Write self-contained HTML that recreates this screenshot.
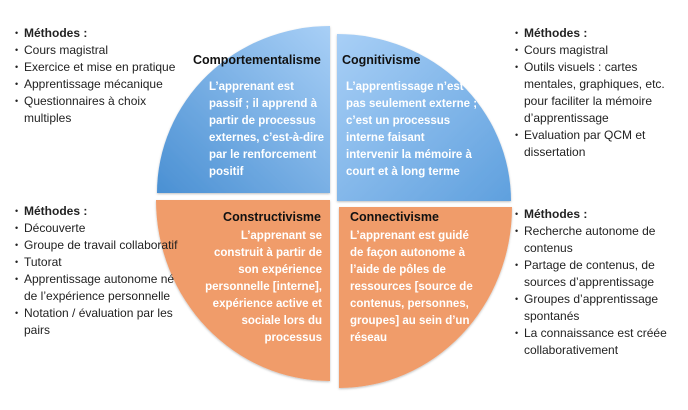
<!DOCTYPE html>
<html><head><meta charset="utf-8"><style>
body{margin:0;width:688px;height:410px;background:#fff;position:relative;overflow:hidden;font-family:"Liberation Sans",sans-serif}
.l{position:absolute;font-size:12px;line-height:17px;color:#222;white-space:nowrap}
.l div{position:relative;padding-left:9px}
.l div.b::before{content:"•";position:absolute;left:0;font-size:9px}
.t{position:absolute;font-size:12.5px;font-weight:bold;color:#111;white-space:nowrap}
.w{position:absolute;font-size:11.5px;font-weight:bold;color:#fff;line-height:17px;white-space:nowrap}
</style></head><body>
<svg width="688" height="410" style="position:absolute;left:0;top:0">
<defs>
<linearGradient id="g1" x1="1" y1="0" x2="0" y2="1"><stop offset="0" stop-color="#a8cff6"/><stop offset="1" stop-color="#4a90d3"/></linearGradient>
<linearGradient id="g2" x1="0" y1="0" x2="1" y2="1"><stop offset="0" stop-color="#a8cff6"/><stop offset="1" stop-color="#5fa0de"/></linearGradient>
<filter id="s"><feDropShadow dx="0" dy="1" stdDeviation="1" flood-opacity="0.25"/></filter>
</defs>
<g filter="url(#s)">
<path d="M330,193 L157,193 A173,167 0 0 1 330,26 Z" fill="url(#g1)"/>
<path d="M337,201 L337,34 A174,167 0 0 1 511,201 Z" fill="url(#g2)"/>
<path d="M330,200 L330,381 A174,181 0 0 1 156,200 Z" fill="#f09c6b"/>
<path d="M339,207 L512,207 A173,181 0 0 1 339,388 Z" fill="#f09c6b"/>
</g>
</svg>
<div class="t" style="left:193px;top:53px">Comportementalisme</div>
<div class="t" style="left:342px;top:53px">Cognitivisme</div>
<div class="t" style="right:367px;top:210px">Constructivisme</div>
<div class="t" style="left:350px;top:210px">Connectivisme</div>
<div class="w" style="left:209px;top:79px">L’apprenant est<br>passif ; il apprend à<br>partir de processus<br>externes, c’est-à-dire<br>par le renforcement<br>positif</div>
<div class="w" style="left:346px;top:79px">L’apprentissage n’est<br>pas seulement externe ;<br>c’est un processus<br>interne faisant<br>intervenir la mémoire à<br>court et à long terme</div>
<div class="w" style="right:366px;top:228px;text-align:right">L’apprenant se<br>construit à partir de<br>son expérience<br>personnelle [interne],<br>expérience active et<br>sociale lors du<br>processus</div>
<div class="w" style="left:350px;top:228px">L’apprenant est guidé<br>de façon autonome à<br>l’aide de pôles de<br>ressources [source de<br>contenus, personnes,<br>groupes] au sein d’un<br>réseau</div>
<div class="l" style="left:15px;top:25px">
<div class="b"><b>Méthodes :</b></div>
<div class="b">Cours magistral</div>
<div class="b">Exercice et mise en pratique</div>
<div class="b">Apprentissage mécanique</div>
<div class="b">Questionnaires à choix<br>multiples</div>
</div>
<div class="l" style="left:515px;top:25px">
<div class="b"><b>Méthodes :</b></div>
<div class="b">Cours magistral</div>
<div class="b">Outils visuels : cartes<br>mentales, graphiques, etc.<br>pour faciliter la mémoire<br>d’apprentissage</div>
<div class="b">Evaluation par QCM et<br>dissertation</div>
</div>
<div class="l" style="left:15px;top:203px">
<div class="b"><b>Méthodes :</b></div>
<div class="b">Découverte</div>
<div class="b">Groupe de travail collaboratif</div>
<div class="b">Tutorat</div>
<div class="b">Apprentissage autonome né<br>de l’expérience personnelle</div>
<div class="b">Notation / évaluation par les<br>pairs</div>
</div>
<div class="l" style="left:515px;top:206px">
<div class="b"><b>Méthodes :</b></div>
<div class="b">Recherche autonome de<br>contenus</div>
<div class="b">Partage de contenus, de<br>sources d’apprentissage</div>
<div class="b">Groupes d’apprentissage<br>spontanés</div>
<div class="b">La connaissance est créée<br>collaborativement</div>
</div>
</body></html>
